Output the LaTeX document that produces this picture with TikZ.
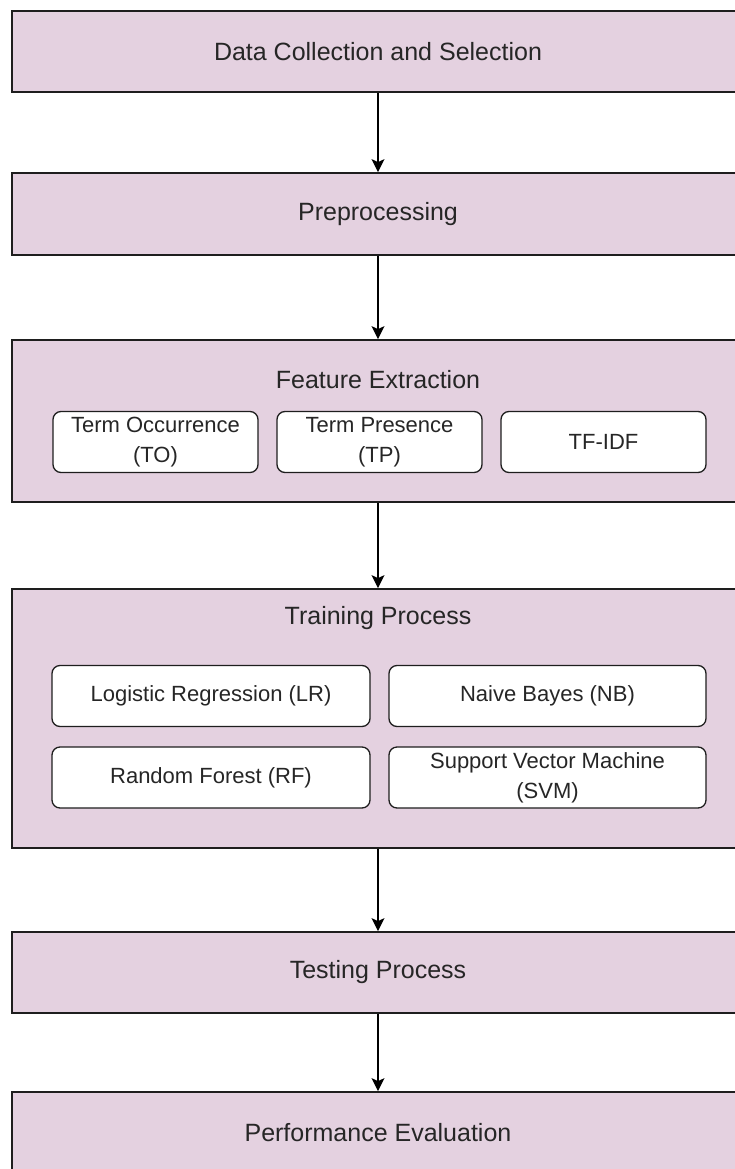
\documentclass[tikz,border=0pt]{standalone}
\usepackage{fontspec}
\setmainfont{Liberation Sans}
\usetikzlibrary{arrows.meta}
\definecolor{boxfill}{HTML}{E4D1E0}
\definecolor{edge}{HTML}{1E1E1E}
\tikzset{
  outerbox/.style={draw=edge, line width=1.8pt, fill=boxfill, rectangle, minimum width=732pt, inner sep=0pt},
  innerbox/.style={draw=edge, line width=1.3pt, fill=white, rectangle, rounded corners=8pt, minimum height=61pt, inner sep=0pt, align=center, font=\fontsize{22}{30}\selectfont, text=black!85},
  titletext/.style={font=\fontsize{25}{30}\selectfont, text=black!85},
  flow/.style={draw=black, line width=1.3pt, -{Stealth[length=13pt,width=13pt,inset=3pt]}}
}
\begin{document}
\begin{tikzpicture}[x=1pt,y=-1pt]
\useasboundingbox (0,0) rectangle (734,1169);
% outer boxes
\node[outerbox, minimum height=81pt, titletext] (b1) at (378,51.5) {Data Collection and Selection};
\node[outerbox, minimum height=82pt, titletext] (b2) at (378,214) {Preprocessing};
\node[outerbox, minimum height=162pt] (b3) at (378,421) {};
\node[titletext] (t3) at (378,380) {Feature Extraction};
\node[outerbox, minimum height=259pt] (b4) at (378,718.5) {};
\node[titletext] (t4) at (378,618) {Training Process};
\node[outerbox, minimum height=81pt, titletext] (b5) at (378,972.5) {Testing Process};
\node[outerbox, minimum height=82pt, titletext] (b6) at (378,1133) {Performance Evaluation};
% feature extraction inner boxes
\node[innerbox, minimum width=205pt] (to) at (155.5,442) {Term Occurrence\\(TO)};
\node[innerbox, minimum width=205pt] (tp) at (379.5,442) {Term Presence\\(TP)};
\node[innerbox, minimum width=205pt] (tfidf) at (603.5,442) {TF-IDF};
% training inner boxes
\node[innerbox, minimum width=318pt] (lr) at (211,696) {Logistic Regression (LR)};
\node[innerbox, minimum width=317pt] (nb) at (547.5,696) {Naive Bayes (NB)};
\node[innerbox, minimum width=318pt] (rf) at (211,777.5) {Random Forest (RF)};
\node[innerbox, minimum width=317pt] (svm) at (547.5,777.5) {Support Vector Machine\\(SVM)};
% connectors
\draw[flow] (b1.south) -- (b2.north);
\draw[flow] (b2.south) -- (b3.north);
\draw[flow] (b3.south) -- (b4.north);
\draw[flow] (b4.south) -- (b5.north);
\draw[flow] (b5.south) -- (b6.north);
\end{tikzpicture}
\end{document}
